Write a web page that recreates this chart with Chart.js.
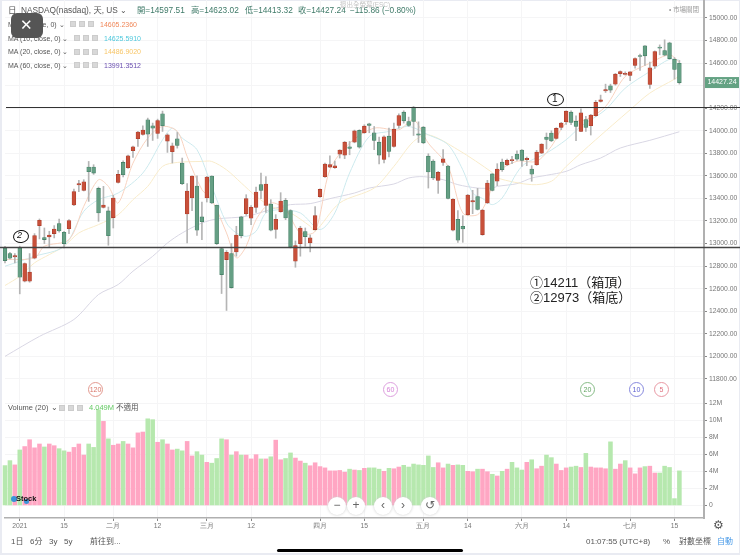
<!DOCTYPE html>
<html>
<head>
<meta charset="utf-8">
<script src="https://cdn.jsdelivr.net/npm/chart.js@4"></script>
<style>
html, body { margin: 0; padding: 0; background: #e9ebf2; }
#page { position: relative; width: 740px; height: 555px; overflow: hidden; font-family: "Liberation Sans", "Noto Sans CJK TC", sans-serif; color: #555; }
#sheet { position: absolute; left: 2px; top: 1px; width: 737px; height: 552px; background: #fff; }
canvas { position: absolute; left: 0; }
.t { position: absolute; white-space: nowrap; line-height: 1; }
.box { position: absolute; width: 6px; height: 6px; background: #d8d8d8; border: 1px solid #ccc; box-sizing: border-box; }
.ring { position: absolute; width: 15px; height: 15px; border: 1px solid; border-radius: 50%; font-size: 7px; line-height: 14px; text-align: center; box-sizing: border-box; background: #fff; }
.nav { position: absolute; top: 497px; width: 18px; height: 18px; border-radius: 50%; background: #fff; box-shadow: 0 0 3px #ccc; text-align: center; font-size: 12px; line-height: 17px; color: #666; }
.q { color: #3f7a68; font-size: 8.3px; top: 6px; }
</style>
</head>
<body>
<div id="page">
  <div id="sheet"></div>
  <canvas id="priceChart" width="740" height="399" style="top:0"></canvas>
  <canvas id="volumeChart" width="740" height="133" style="top:399px"></canvas>

  <div class="t" style="left:8px;top:6px;font-size:8.5px">日</div>
  <div class="t" style="left:21px;top:6px;font-size:8.3px">NASDAQ(nasdaq), 天, US ⌄</div>
  <div class="t q" style="left:137px">開=14597.51</div>
  <div class="t q" style="left:191px">高=14623.02</div>
  <div class="t q" style="left:245px">低=14413.32</div>
  <div class="t q" style="left:298px">收=14427.24</div>
  <div class="t q" style="left:350px">−115.86 (−0.80%)</div>
  <div class="t" style="left:340px;top:2px;font-size:6.5px;color:#c4c4c4">退出全螢幕(ESC)</div>
  <div class="t" style="left:669px;top:7px;font-size:6.5px;color:#999">• 市場關閉</div>

  <div class="t" style="left:8px;top:21px;font-size:7px">MA (5, close, 0) ⌄</div>
  <div class="t" style="left:8px;top:35px;font-size:7px">MA (10, close, 0) ⌄</div>
  <div class="t" style="left:8px;top:48px;font-size:7px">MA (20, close, 0) ⌄</div>
  <div class="t" style="left:8px;top:62px;font-size:7px">MA (60, close, 0) ⌄</div>
  <div class="box" style="left:70px;top:21px"></div><div class="box" style="left:79px;top:21px"></div><div class="box" style="left:88px;top:21px"></div>
  <div class="box" style="left:74px;top:35px"></div><div class="box" style="left:83px;top:35px"></div><div class="box" style="left:92px;top:35px"></div>
  <div class="box" style="left:74px;top:49px"></div><div class="box" style="left:83px;top:49px"></div><div class="box" style="left:92px;top:49px"></div>
  <div class="box" style="left:74px;top:62px"></div><div class="box" style="left:83px;top:62px"></div><div class="box" style="left:92px;top:62px"></div>
  <div class="t" style="left:100px;top:21px;font-size:7px;color:#f0885a">14605.2360</div>
  <div class="t" style="left:104px;top:35px;font-size:7px;color:#4fc8dc">14625.5910</div>
  <div class="t" style="left:104px;top:48px;font-size:7px;color:#f8c668">14486.9020</div>
  <div class="t" style="left:104px;top:62px;font-size:7px;color:#6a4fb0">13991.3512</div>

  <div style="position:absolute;left:11px;top:13px;width:32px;height:25px;border-radius:6px;background:#555"></div>
  <div class="t" style="left:20px;top:18px;font-size:15px;color:#fff;font-family:'DejaVu Sans'">✕</div>

  <div class="t" style="left:530px;top:276px;font-size:13px;color:#222">①14211（箱頂）</div>
  <div class="t" style="left:530px;top:291px;font-size:13px;color:#222">②12973（箱底）</div>

  <div style="position:absolute;left:13px;top:230px;width:14px;height:11px;border:1px solid #111;border-radius:50%;transform:rotate(-8deg)"></div>
  <div class="t" style="left:17px;top:231px;font-size:9px;color:#111;font-style:italic">2</div>
  <div style="position:absolute;left:547px;top:93px;width:15px;height:11px;border:1px solid #111;border-radius:50%"></div>
  <div class="t" style="left:552px;top:94px;font-size:10px;color:#111">1</div>

  <div class="ring" style="left:88px;top:382px;color:#d9776a;border-color:#e39a90">120</div>
  <div class="ring" style="left:383px;top:382px;color:#d783d8;border-color:#dda0de">60</div>
  <div class="ring" style="left:580px;top:382px;color:#63a563;border-color:#86bb86">20</div>
  <div class="ring" style="left:629px;top:382px;color:#5c5fd0;border-color:#8688dd">10</div>
  <div class="ring" style="left:654px;top:382px;color:#e0707f;border-color:#e898a3">5</div>

  <div class="t" style="left:8px;top:404px;font-size:7.5px">Volume (20) ⌄</div>
  <div class="box" style="left:59px;top:405px"></div><div class="box" style="left:68px;top:405px"></div><div class="box" style="left:77px;top:405px"></div>
  <div class="t" style="left:89px;top:404px;font-size:7.5px;color:#62c962">4.049M</div>
  <div class="t" style="left:116px;top:404px;font-size:7.5px">不適用</div>

  <div style="position:absolute;left:11px;top:496px;width:6px;height:6px;border-radius:50%;background:#3a93d8"></div>
  <div style="position:absolute;left:24px;top:499px;width:5px;height:5px;border-radius:50%;background:#3a93d8"></div>
  <div class="t" style="left:16px;top:495px;font-size:7.5px;color:#111;font-weight:bold">Stock</div>

  <div class="nav" style="left:328px">−</div>
  <div class="nav" style="left:347px">+</div>
  <div class="nav" style="left:374px">‹</div>
  <div class="nav" style="left:394px">›</div>
  <div class="nav" style="left:421px;font-family:'DejaVu Sans'">↺</div>

  <div class="t" style="left:713px;top:519px;font-size:12px;font-family:'DejaVu Sans'">⚙</div>
  <div class="t" style="left:11px;top:538px;font-size:8px">1日</div>
  <div class="t" style="left:30px;top:538px;font-size:8px">6分</div>
  <div class="t" style="left:49px;top:538px;font-size:8px">3y</div>
  <div class="t" style="left:64px;top:538px;font-size:8px">5y</div>
  <div class="t" style="left:90px;top:538px;font-size:8px">前往到...</div>
  <div class="t" style="left:586px;top:538px;font-size:8px">01:07:55 (UTC+8)</div>
  <div class="t" style="left:663px;top:538px;font-size:8px">%</div>
  <div class="t" style="left:679px;top:538px;font-size:8px">對數坐標</div>
  <div class="t" style="left:717px;top:538px;font-size:8px;color:#4a9be8">自動</div>
  <div style="position:absolute;left:277px;top:549px;width:186px;height:3px;border-radius:2px;background:#000"></div>
</div>

<script>
// trading days, Dec 29 2020 to Jul 16 2021
const tradingDays = [
  '12-29','12-30','12-31',
  '01-04','01-05','01-06','01-07','01-08','01-11','01-12','01-13','01-14','01-15','01-19','01-20','01-21','01-22','01-25','01-26','01-27','01-28','01-29',
  '02-01','02-02','02-03','02-04','02-05','02-08','02-09','02-10','02-11','02-12','02-16','02-17','02-18','02-19','02-22','02-23','02-24','02-25','02-26',
  '03-01','03-02','03-03','03-04','03-05','03-08','03-09','03-10','03-11','03-12','03-15','03-16','03-17','03-18','03-19','03-22','03-23','03-24','03-25','03-26','03-29','03-30','03-31',
  '04-01','04-05','04-06','04-07','04-08','04-09','04-12','04-13','04-14','04-15','04-16','04-19','04-20','04-21','04-22','04-23','04-26','04-27','04-28','04-29','04-30',
  '05-03','05-04','05-05','05-06','05-07','05-10','05-11','05-12','05-13','05-14','05-17','05-18','05-19','05-20','05-21','05-24','05-25','05-26','05-27','05-28',
  '06-01','06-02','06-03','06-04','06-07','06-08','06-09','06-10','06-11','06-14','06-15','06-16','06-17','06-18','06-21','06-22','06-23','06-24','06-25','06-28','06-29','06-30',
  '07-01','07-02','07-06','07-07','07-08','07-09','07-12','07-13','07-14','07-15','07-16'
];
const blankDays = ['', '', '', '', ''];   // empty space right of the last candle

const tickDays = ['01-04','01-15','02-01','02-12','03-01','03-12','04-01','04-15','05-03','05-14','06-01','06-14','07-01','07-15'];
const tickLabels = ['2021','15','二月','12','三月','12','四月','15','五月','14','六月','14','七月','15'];

const opens = [
  12961,12911,12882,12961,12666,12666,12870,13159,13053,13059,
  13088,13177,13100,13132,13342,13519,13472,13678,13678,13489,
  13321,13289,13230,13542,13719,13672,13823,13929,13967,14097,
  14044,13976,14150,13908,13814,13929,13714,13262,13404,13510,
  13236,13404,13598,13339,12955,12858,12911,12926,13236,13265,
  13224,13321,13522,13339,13351,13126,13283,13383,13292,12843,
  13000,13106,13006,13124,13416,13593,13678,13672,13793,13784,
  13858,13899,14003,13982,14062,13982,13899,13746,13952,13861,
  14047,14165,14082,14209,13973,14032,13775,13731,13560,13719,
  13687,13118,13215,13153,13256,13368,13416,13079,13360,13617,
  13552,13723,13696,13735,13794,13829,13744,13661,13699,13802,
  13944,13980,13932,14030,14080,14165,14083,13994,14098,14044,
  14133,14260,14354,14398,14413,14505,14499,14490,14578,14667,
  14752,14410,14572,14741,14711,14779,14634,14597.51
];
const highs = [
  12976,12923,12911,12976,12828,12911,13088,13218,13138,13109,
  13159,13218,13109,13212,13483,13560,13566,13728,13699,13501,
  13507,13324,13427,13649,13734,13784,13864,13994,14044,14112,
  14068,14103,14174,13973,13891,13985,13758,13531,13601,13601,
  13368,13596,13601,13342,12961,12938,13000,13153,13242,13433,
  13336,13501,13625,13593,13389,13256,13451,13401,13300,13023,
  13153,13138,13076,13327,13486,13714,13778,13731,13832,13905,
  13905,14006,14009,14053,14067,14038,13944,13955,14023,14068,
  14150,14177,14121,14215,14079,14038,13796,13743,13640,13832,
  13693,13398,13292,13247,13436,13472,13489,13303,13560,13620,
  13708,13749,13749,13773,13823,13832,13767,13690,13826,13885,
  13980,14000,14027,14074,14177,14177,14133,14195,14127,14145,
  14269,14316,14413,14413,14508,14531,14522,14525,14646,14679,
  14755,14608,14708,14761,14806,14785,14649,14623.02
];
const lows = [
  12828,12864,12828,12554,12660,12657,12864,13041,13000,12970,
  13050,13100,12961,13088,13336,13460,13466,13374,13613,13197,
  13315,12985,13138,13536,13590,13666,13764,13861,13961,13861,
  13914,13932,13994,13808,13714,13846,13522,13006,13292,13073,
  13035,13368,13354,12991,12557,12407,12604,12888,13050,13250,
  13168,13277,13398,13277,13112,13047,13277,13212,12961,12790,
  12888,12976,12926,13118,13410,13587,13672,13666,13758,13752,
  13787,13893,13846,13976,13982,13832,13705,13714,13767,13855,
  14023,14068,14038,13958,13896,13885,13492,13566,13445,13693,
  13395,13112,13011,13011,13250,13265,13297,13073,13354,13466,
  13513,13640,13690,13708,13738,13684,13690,13552,13693,13797,
  13838,13903,13926,14009,14056,14053,13912,13991,13994,13962,
  14127,14254,14339,14339,14404,14481,14493,14443,14555,14534,
  14578,14375,14552,14673,14664,14634,14457,14413.32
];
const closes = [
  12849,12870,12893,12702,12823,12746,13070,13206,13035,13076,
  13129,13112,13000,13203,13460,13531,13548,13637,13625,13271,
  13342,13070,13404,13613,13610,13778,13858,13988,14006,13970,
  14023,14091,14044,13964,13867,13870,13531,13466,13598,13118,
  13194,13590,13360,13000,12725,12923,12610,13076,13070,13398,
  13321,13457,13472,13528,13118,13215,13377,13227,12970,12982,
  13138,13062,13050,13247,13480,13705,13699,13690,13829,13899,
  13843,13999,13855,14041,14047,13914,13784,13947,13817,14014,
  14135,14088,14047,14082,13961,13893,13634,13581,13631,13752,
  13401,13392,13029,13129,13430,13380,13303,13297,13537,13472,
  13661,13655,13738,13744,13749,13738,13755,13614,13811,13882,
  13923,13909,14021,14068,14174,14074,14039,14159,14030,14139,
  14251,14274,14366,14360,14502,14525,14510,14522,14640,14658,
  14664,14558,14702,14732,14670,14640,14543,14427.24
];

// volume in millions, volumeUp 1 = pink bar, 0 = green bar
const volumes = [
  4.67,5.25,4.75,6.5,6.9,7.7,6.75,7.2,6.85,7.2,
  7.0,6.65,6.4,6.25,6.8,7.2,5.9,7.2,6.8,11.2,
  9.85,7.8,7.05,7.2,7.5,7.2,6.75,8.5,8.6,10.15,
  10.05,7.4,7.7,7.2,6.5,6.6,6.4,7.5,5.8,6.3,
  5.9,5.05,4.95,5.5,7.8,7.7,5.9,6.3,5.9,5.9,
  5.45,5.95,5.45,5.45,5.7,7.65,5.35,5.5,6.15,5.55,
  5.2,4.95,4.65,5.0,4.55,4.4,4.05,4.05,4.1,3.9,
  4.25,4.15,4.1,4.35,4.4,4.4,4.25,4.0,4.35,4.3,
  4.5,4.7,4.5,4.85,4.75,4.7,5.8,4.45,5.0,4.4,
  4.85,4.7,4.75,4.7,4.0,3.95,4.25,4.25,3.95,3.65,
  3.45,4.0,4.25,5.05,4.4,4.15,5.05,5.35,4.3,4.6,
  5.9,5.6,4.85,4.1,4.4,4.5,4.6,4.45,6.1,4.5,
  4.4,4.4,4.3,7.45,4.25,4.85,5.25,4.4,3.7,4.4,
  4.55,4.6,3.8,3.8,4.6,4.45,0.8,4.05
];
const volumeUp = [
  0,0,1,0,1,1,1,1,0,1,
  1,0,0,1,1,1,1,0,0,0,
  1,0,1,1,0,1,1,1,1,0,
  0,1,0,1,1,0,0,1,1,0,
  0,1,0,0,0,1,0,1,0,1,
  1,1,0,1,0,1,1,0,0,1,
  1,0,1,1,1,1,1,1,1,1,
  0,1,0,1,0,0,0,1,0,1,
  1,0,0,0,0,0,0,0,1,1,
  0,1,0,0,1,1,0,1,1,0,
  1,0,1,0,0,0,1,0,1,1,
  0,0,1,1,1,0,0,1,0,1,
  1,1,1,0,1,1,0,1,1,1,
  0,1,1,0,0,0,0,0
];

// moving averages, at the candle numbers in the *At lists
const ma5At = [0,6,8,13,16,19,21,23,26,29,32,35,37,40,42,45,47,49,51,54,57,60,63,66,70,75,80,83,86,90,93,96,98,100,104,108,111,114,118,122,126,131,135,137];
const ma5 = [12858,12873,12976,13035,13330,13566,13507,13360,13713,13935,14038,13994,13772,13478,13389,13094,12873,12976,13212,13360,13300,13094,13109,13654,13890,14023,14008,14097,13890,13684,13271,13256,13389,13626,13729,13729,13862,14068,14098,14215,14481,14599,14673,14605];
const ma10At = [0,6,12,16,19,23,28,32,34,36,39,42,45,47,49,51,53,56,60,64,67,70,74,78,82,86,90,93,95,97,99,101,105,110,114,117,122,126,131,135,137];
const ma10 = [12799,12887,12976,13286,13389,13448,13625,13920,14023,13935,13832,13507,13182,13094,13064,13109,13271,13300,13271,13124,13271,13625,13949,13994,14038,13964,13876,13654,13448,13400,13345,13404,13684,13802,13920,14039,14186,14378,14525,14634,14626];
const ma20At = [0,3,6,9,12,15,19,23,26,29,32,35,40,42,45,48,51,54,58,62,63,68,75,79,83,86,92,99,100,107,111,114,120,127,131,136,137];
const ma20 = [12628,12710,12829,12902,12976,13094,13168,13256,13389,13507,13684,13719,13728,13728,13654,13537,13419,13330,13271,13153,13109,13360,13492,13684,13905,13964,13832,13629,13581,13522,13552,13684,13920,14186,14334,14457,14487];
const ma60At = [0,7,14,19,23,26,30,33,36,40,43,49,55,58,62,66,71,74,79,82,85,89,92,96,99,100,104,107,110,114,117,121,125,131,137];
const ma60 = [12000,12177,12327,12548,12637,12755,12887,13005,13094,13182,13218,13241,13315,13345,13354,13398,13448,13492,13528,13581,13593,13566,13522,13492,13492,13507,13531,13581,13605,13640,13699,13758,13847,13915,13991];

const boxLevels = [14211, 12973];

const candleBody = opens.map((o, i) => [o, closes[i]]);
const candleWick = lows.map((low, i) => [low, highs[i]]);
const maPoints = (at, vals) => at.map((d, k) => ({ x: tradingDays[d], y: vals[k] }));

const axisFont = { size: 6.8, family: '"Liberation Sans", sans-serif' };
const gridColor = '#f5f5f6';
const labels = tradingDays.concat(blankDays);

function pickTicks(scale) {
  scale.ticks = tickDays.map(d => ({ value: tradingDays.indexOf(d) }));
}
function noPad(scale) {
  scale.paddingTop = 0; scale.paddingBottom = 0; scale.paddingLeft = 0; scale.paddingRight = 0;
}

// box lines run across the price axis, last price tag sits on the axis
const priceOverlay = {
  id: 'priceOverlay',
  afterDraw(chart) {
    const ctx = chart.ctx, y = chart.scales.y;
    ctx.save();
    boxLevels.forEach((v, k) => {
      const py = Math.round(y.getPixelForValue(v)) + 0.5;
      ctx.strokeStyle = k === 0 ? '#333' : '#444';
      ctx.lineWidth = k === 0 ? 1.1 : 1.5;
      ctx.beginPath();
      ctx.moveTo(k === 0 ? 6 : 0, py);
      ctx.lineTo(740, py);
      ctx.stroke();
    });
    const last = closes[closes.length - 1];
    const py = y.getPixelForValue(last);
    ctx.fillStyle = '#64a283';
    ctx.fillRect(705, py - 5.5, 34, 11);
    ctx.fillStyle = '#fff';
    ctx.font = '7px "Liberation Sans", sans-serif';
    ctx.textAlign = 'center';
    ctx.textBaseline = 'middle';
    ctx.fillText(last.toFixed(2), 722, py);
    ctx.restore();
  }
};

new Chart(document.getElementById('priceChart').getContext('2d'), {
  type: 'bar',
  plugins: [priceOverlay],
  data: {
    labels: labels,
    datasets: [
      { type: 'line', data: maPoints(ma60At, ma60), borderColor: '#d9d7e4', borderWidth: 1, pointRadius: 0, tension: 0.3, order: 6 },
      { type: 'line', data: maPoints(ma20At, ma20), borderColor: '#f9eccb', borderWidth: 1, pointRadius: 0, tension: 0.3, order: 5 },
      { type: 'line', data: maPoints(ma10At, ma10), borderColor: '#cdeaee', borderWidth: 1, pointRadius: 0, tension: 0.3, order: 4 },
      { type: 'line', data: maPoints(ma5At, ma5), borderColor: '#f8d3c0', borderWidth: 1, pointRadius: 0, tension: 0.3, order: 3 },
      { data: candleWick, backgroundColor: '#b5b5b5', maxBarThickness: 1, barPercentage: 1, categoryPercentage: 1, grouped: false, clip: false, order: 2 },
      {
        data: candleBody,
        backgroundColor: closes.map((c, i) => c >= opens[i] ? '#c8503a' : '#659f84'),
        borderColor: closes.map((c, i) => c >= opens[i] ? '#a83a28' : '#3f7a60'),
        borderWidth: 0.6, borderSkipped: false,
        maxBarThickness: 3.8, barPercentage: 1, categoryPercentage: 1, grouped: false, clip: false, order: 1
      }
    ]
  },
  options: {
    responsive: false,
    animation: false,
    layout: { padding: { left: 5, right: 0, top: 0, bottom: 0 } },
    plugins: { legend: { display: false }, tooltip: { enabled: false } },
    scales: {
      x: {
        offset: false,
        grid: { color: gridColor, offset: false, drawTicks: false },
        border: { display: false },
        ticks: { display: false, autoSkip: false },
        afterBuildTicks: pickTicks,
        afterFit: s => { noPad(s); s.height = 0; }
      },
      y: {
        position: 'right',
        min: 11622,
        max: 15159,
        grid: { color: gridColor, tickLength: 3, tickColor: '#888' },
        border: { color: '#b0b0b0', width: 2 },
        ticks: {
          stepSize: 200, includeBounds: false, autoSkip: false, padding: 2,
          color: '#777', font: axisFont,
          callback: v => v.toFixed(2)
        },
        afterFit: s => { noPad(s); s.width = 36; }
      }
    }
  }
});

new Chart(document.getElementById('volumeChart').getContext('2d'), {
  type: 'bar',
  data: {
    labels: labels,
    datasets: [{
      data: volumes,
      backgroundColor: volumeUp.map(u => u ? '#ffa6c3' : '#b6e8ae'),
      barThickness: 3.9,
      clip: false
    }]
  },
  options: {
    responsive: false,
    animation: false,
    layout: { padding: { left: 5, right: 0, top: 0, bottom: 0 } },
    plugins: { legend: { display: false }, tooltip: { enabled: false } },
    scales: {
      x: {
        offset: false,
        grid: { color: gridColor, offset: false, tickLength: 3, tickColor: '#888' },
        border: { color: '#b0b0b0', width: 1.5 },
        ticks: {
          autoSkip: false, maxRotation: 0, padding: 1,
          color: '#777', font: axisFont,
          callback: (v, i) => tickLabels[i]
        },
        afterBuildTicks: pickTicks,
        afterFit: s => { noPad(s); s.height = 14; }
      },
      y: {
        position: 'right',
        min: -1.47,
        max: 12.47,
        grid: { color: gridColor, tickLength: 3, tickColor: '#888' },
        border: { color: '#b0b0b0', width: 2 },
        ticks: {
          stepSize: 2, includeBounds: false, autoSkip: false, padding: 2,
          color: '#777', font: axisFont,
          callback: v => v === 0 ? '0' : v + 'M'
        },
        afterFit: s => { noPad(s); s.width = 36; }
      }
    }
  }
});
</script>
</body>
</html>
